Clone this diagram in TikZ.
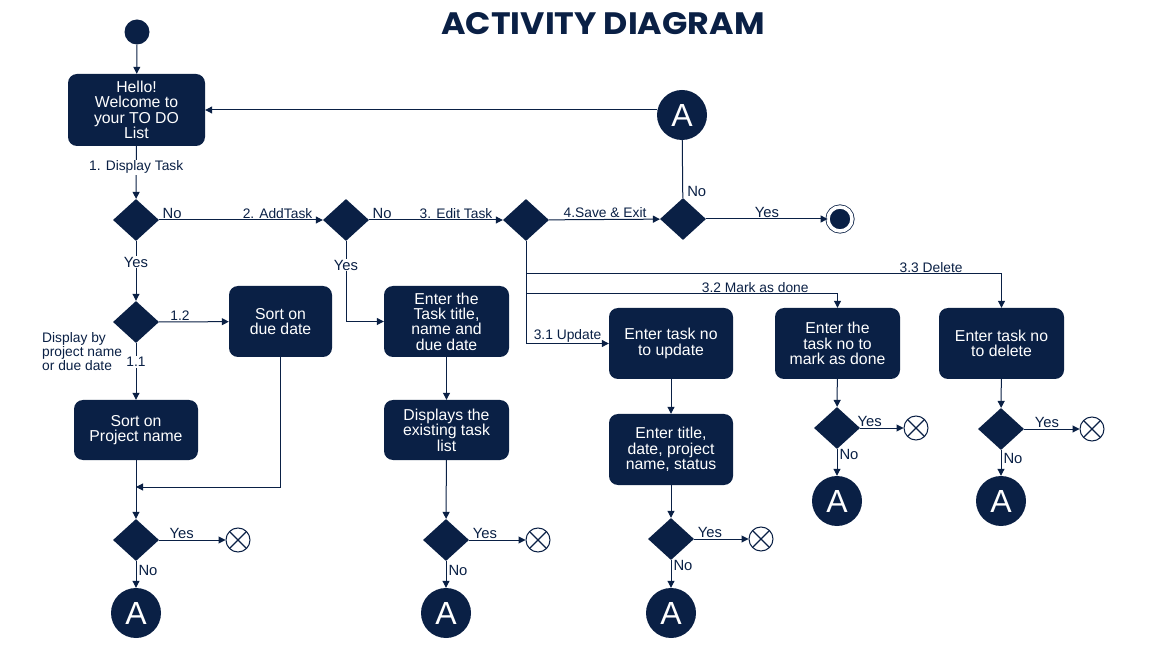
\documentclass[tikz,border=0pt]{standalone}
\usepackage{fontspec}
\setmainfont{Liberation Sans}
\newfontfamily\titlefont{Poppins}
\usetikzlibrary{shapes.geometric,arrows.meta}
\definecolor{navy}{HTML}{0A2045}
\begin{document}
\begin{tikzpicture}[x=1pt,y=-1pt,
  act/.style={rectangle, rounded corners=9pt, fill=navy, text=white, align=center, font=\fontsize{15.8}{15.4}\selectfont, inner sep=2pt},
  dec/.style={diamond, fill=navy, minimum width=46pt, minimum height=42pt, inner sep=0pt},
  conn/.style={circle, fill=navy, text=white, minimum size=50pt, inner sep=0pt, font=\fontsize{32}{32}\selectfont},
  initnode/.style={circle, fill=navy, minimum size=25pt, inner sep=0pt},
  finnode/.style={circle, fill=navy, draw=navy, line width=0.8pt, double=white, double distance=3.5pt, minimum size=24pt, inner sep=0pt},
  xnode/.style={circle, draw=navy, fill=white, line width=1pt, minimum size=24pt, inner sep=0pt,
    path picture={\draw[navy, line width=1.2pt] (path picture bounding box.south west) -- (path picture bounding box.north east) (path picture bounding box.north west) -- (path picture bounding box.south east);}},
  flow/.style={draw=navy, line width=1pt, -{Triangle[length=7pt,width=7pt]}},
  plain/.style={draw=navy, line width=1pt},
  lbl/.style={font=\fontsize{13.8}{14}\selectfont, text=navy, inner sep=1pt},
  yn/.style={font=\fontsize{14.8}{15}\selectfont, text=navy, inner sep=1pt},
]
\fill[white] (0,0) rectangle (1152,668);
\useasboundingbox (0,0) rectangle (1152,668);

% title
\node[text=navy, font=\titlefont\bfseries, inner sep=0pt] (title) at (603,24) {\resizebox{323pt}{22pt}{ACTIVITY DIAGRAM}};

% top row
\node[initnode] (s) at (137,32) {};
\node[act, minimum width=137pt, minimum height=72pt] (hello) at (136.5,110) {Hello!\\Welcome to\\your TO DO\\List};
\node[dec] (d1) at (136,220) {};
\node[dec] (d2) at (346,220) {};
\node[dec] (d3) at (526,220) {};
\node[dec] (d4) at (683,219) {};
\node[finnode] (end) at (840,219) {};
\node[conn] (a0) at (682,115) {A};

% left column
\node[dec] (d5) at (136,322) {};
\node[act, minimum width=103pt, minimum height=71pt] (sdue) at (280.5,321.5) {Sort on\\due date};
\node[act, minimum width=124pt, minimum height=60pt] (sproj) at (136,430) {Sort on\\Project name};
\node[lbl, align=left, anchor=north west] (dlbl) at (41,331) {Display by\\project name\\or due date};
\coordinate (m1) at (136,487);
\node[dec] (d6) at (136,540) {};
\node[xnode] (x1) at (238,540) {};
\node[conn] (a1) at (136,613) {A};

% middle column
\node[act, minimum width=125pt, minimum height=71pt] (add) at (446.5,321.5) {Enter the\\Task title,\\name and\\due date};
\node[act, minimum width=125pt, minimum height=60pt] (disp) at (446.5,430) {Displays the\\existing task\\list};
\node[dec] (d7) at (446,540) {};
\node[xnode] (x2) at (538,540) {};
\node[conn] (a2) at (446,613) {A};

% update column
\node[act, minimum width=124pt, minimum height=71pt] (upd) at (671,343.5) {Enter task no\\to update};
\node[act, minimum width=124pt, minimum height=71pt] (upd2) at (671,449.5) {Enter title,\\date, project\\name, status};
\node[dec] (d8) at (671,539) {};
\node[xnode] (x3) at (761,539) {};
\node[conn] (a3) at (671,613) {A};

% mark column
\node[act, minimum width=125pt, minimum height=71pt] (mark) at (837.5,343.5) {Enter the\\task no to\\mark as done};
\node[dec] (d9) at (837,428) {};
\node[xnode] (x4) at (916,428) {};
\node[conn] (a4) at (837,501) {A};

% delete column
\node[act, minimum width=125pt, minimum height=71pt] (del) at (1001.5,343.5) {Enter task no\\to delete};
\node[dec] (d10) at (1001,429) {};
\node[xnode] (x5) at (1092,429) {};
\node[conn] (a5) at (1001,501) {A};

\coordinate (b2) at (526,294);
\coordinate (b3) at (526,274);

% connectors: main row
\draw[flow] (s) -- (hello);
\draw[flow] (hello) -- node[lbl, fill=white, pos=0.4] {1. Display Task} (d1);
\draw[flow] (d1) -- node[yn, pos=0, anchor=south west, xshift=2pt] {No} node[lbl, pos=1, anchor=south east, xshift=-9pt] {2. AddTask} (d2);
\draw[flow] (d2) -- node[yn, pos=0, anchor=south west, xshift=2pt] {No} node[lbl, pos=1, anchor=south east, xshift=-9pt] {3. Edit Task} (d3);
\draw[flow] (d3) -- node[lbl, pos=1, anchor=south east, xshift=-12pt] {4.Save \& Exit} (d4);
\draw[flow] (d4) -- node[yn, midway, above] {Yes} (end);
\draw[plain] (d4) -- node[yn, pos=0, anchor=south west, xshift=3pt] {No} (a0);
\draw[flow] (a0.west |- hello.east) -- (hello.east);

% left column connectors
\draw[flow] (d1) -- node[yn, fill=white, pos=0.35] {Yes} (d5);
\draw[flow] (d5) -- node[lbl, pos=0.3, above] {1.2} (sdue);
\draw[flow] (d5) -- node[lbl, fill=white, pos=0.33] {1.1} (sproj);
\draw[flow] (sproj) -- (d6);
\draw[flow] (sdue) |- (m1);
\draw[flow] (d6) -- node[yn, pos=0.34, above] {Yes} (x1);
\draw[flow] (d6) -- node[yn, pos=0.33, right, inner sep=2pt] {No} (a1);

% middle column connectors
\draw[flow] (d2) |- node[yn, fill=white, pos=0.15] {Yes} (add);
\draw[flow] (add) -- (disp);
\draw[flow] (disp) -- (d7);
\draw[flow] (d7) -- node[yn, pos=0.28, above] {Yes} (x2);
\draw[flow] (d7) -- node[yn, pos=0.33, right, inner sep=2pt] {No} (a2);

% edit branches
\draw[flow] (d3) |- node[lbl, pos=1, anchor=south east, xshift=-6pt] {3.1 Update} (upd);
\draw[flow] (b2) -| node[lbl, pos=0.368, above] {3.2 Mark as done} (mark);
\draw[flow] (b3) -| node[lbl, pos=0.426, above] {3.3 Delete} (del);

\draw[flow] (upd) -- (upd2);
\draw[flow] (upd2) -- (d8);
\draw[flow] (d8) -- node[yn, pos=0.29, above] {Yes} (x3);
\draw[flow] (d8) -- node[yn, pos=0.2, right, inner sep=2pt] {No} (a3);

\draw[flow] (mark) -- (d9);
\draw[flow] (d9) -- node[yn, pos=0.22, above] {Yes} (x4);
\draw[flow] (d9) -- node[yn, pos=0.2, right, inner sep=2pt] {No} (a4);

\draw[flow] (del) -- (d10);
\draw[flow] (d10) -- node[yn, pos=0.41, above] {Yes} (x5);
\draw[flow] (d10) -- node[yn, pos=0.33, right, inner sep=2pt] {No} (a5);
\end{tikzpicture}
\end{document}
